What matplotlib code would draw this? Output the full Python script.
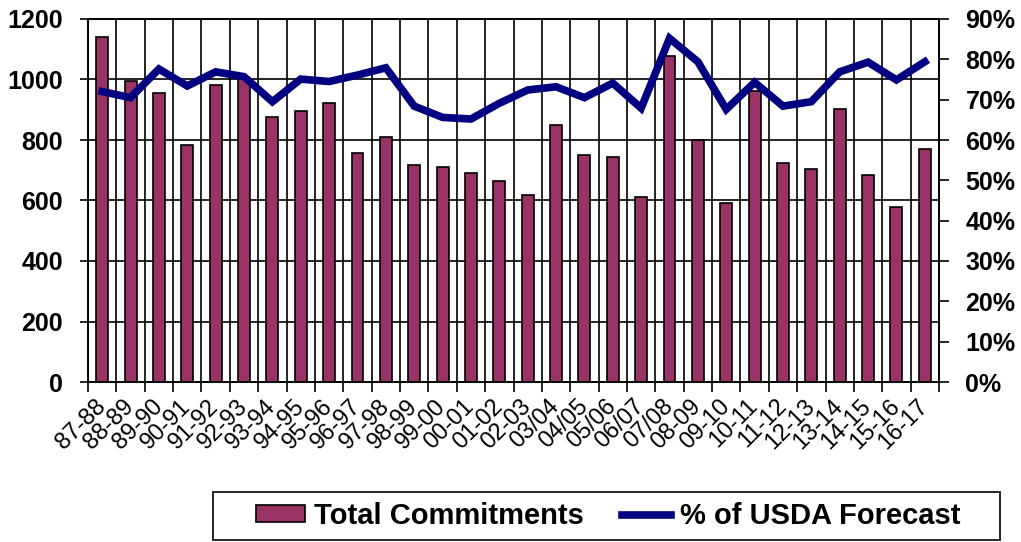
import numpy as np
import matplotlib.pyplot as plt
from matplotlib.patches import Rectangle
from matplotlib.ticker import FuncFormatter, MultipleLocator

plt.rcParams["font.family"] = ["Liberation Sans", "DejaVu Sans"]

# ── Data ──────────────────────────────────────────────────────────────────────
seasons = ["87-88", "88-89", "89-90", "90-91", "91-92", "92-93", "93-94", "94-95",
           "95-96", "96-97", "97-98", "98-99", "99-00", "00-01", "01-02", "02-03",
           "03/04", "04/05", "05/06", "06/07", "07/08", "08-09", "09-10", "10-11",
           "11-12", "12-13", "13-14", "14-15", "15-16", "16-17"]
commitments = [1140, 995, 955, 783, 982, 1005, 877, 896, 922, 758,
               811, 718, 712, 692, 665, 619, 850, 750, 745, 612,
               1079, 800, 593, 962, 724, 704, 902, 685, 579, 771]
pct_usda = [72.0, 70.5, 77.6, 73.4, 76.9, 75.7, 69.5, 75.1, 74.5, 76.1,
            77.9, 68.4, 65.6, 65.2, 69.1, 72.4, 73.2, 70.5, 74.1, 67.9,
            85.2, 79.4, 67.6, 74.3, 68.4, 69.5, 76.9, 79.3, 74.9, 79.4]

bar_color = "#993366"
line_color = "#000080"

# ── Figure ────────────────────────────────────────────────────────────────────
W, H = 1021, 542
fig = plt.figure(figsize=(W / 100, H / 100), dpi=100)
ax = fig.add_axes([88 / W, 1 - 382 / H, (939 - 88) / W, (382 - 19) / H])

x = np.arange(len(seasons))
bars = ax.bar(x, commitments, width=0.42, color=bar_color, edgecolor="black",
              linewidth=1.2, zorder=3, label="Total Commitments")
ax.set_xlim(-0.5, len(seasons) - 0.5)
ax.set_ylim(0, 1200)
ax.yaxis.set_major_locator(MultipleLocator(200))
ax.tick_params(axis="y", labelsize=18, length=6, width=1.2, pad=12)
for t in ax.get_yticklabels():
    t.set_fontweight("bold")

ax.set_xticks(x)
ax.set_xticklabels(seasons, rotation=45, ha="right", va="center",
                   rotation_mode="anchor", fontsize=17)
ax.set_xticks(np.arange(len(seasons) + 1) - 0.5, minor=True)
ax.tick_params(axis="x", which="major", length=0, pad=15)
ax.tick_params(axis="x", which="minor", length=7, width=1.2)

ax.grid(axis="y", color="black", lw=1.2, zorder=0)
ax.grid(axis="x", which="minor", color="black", lw=1.2, zorder=0)
for s in ax.spines.values():
    s.set_linewidth(1.2)

ax2 = ax.twinx()
line, = ax2.plot(x, pct_usda, color=line_color, lw=5.5, zorder=4,
                 solid_joinstyle="miter", label="% of USDA Forecast")
ax2.set_ylim(0, 90)
ax2.yaxis.set_major_locator(MultipleLocator(10))
ax2.yaxis.set_major_formatter(FuncFormatter(lambda v, p: f"{v:.0f}%"))
ax2.tick_params(axis="y", labelsize=18, length=7, width=1.2, pad=12)
for t in ax2.get_yticklabels():
    t.set_fontweight("bold")
for s in ax2.spines.values():
    s.set_linewidth(1.2)

# legend box (Excel style, wider than its content)
fig.patches.append(Rectangle((213 / W, 2 / H), 787 / W, 48 / H,
                             transform=fig.transFigure, fill=False,
                             edgecolor="black", lw=1.2))
leg = fig.legend([bars, line], ["Total Commitments", "% of USDA Forecast"],
                 loc="center", bbox_to_anchor=(608 / W, 1 - 516 / H), ncol=2,
                 frameon=False, prop={"size": 21, "weight": "bold"},
                 handlelength=1.7, handleheight=0.5, handletextpad=0.3,
                 columnspacing=1.3, borderpad=0, borderaxespad=0)

fig.savefig("out.png", dpi=100)
